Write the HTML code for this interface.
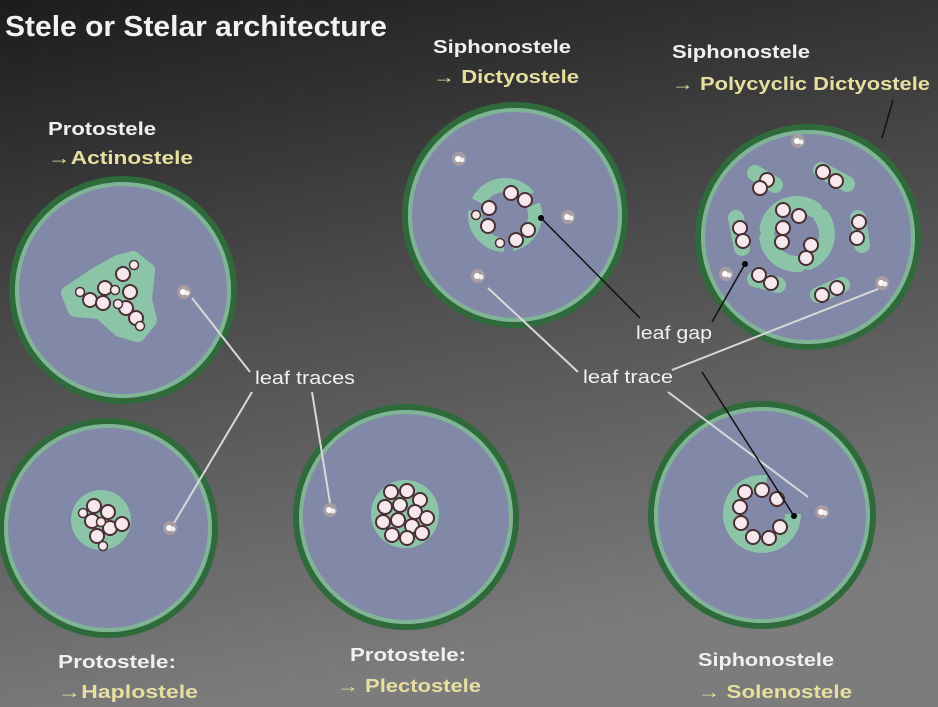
<!DOCTYPE html>
<html><head><meta charset="utf-8"><style>
html,body{margin:0;padding:0;width:938px;height:707px;overflow:hidden;background:#555}
svg{display:block}
text{font-family:"Liberation Sans",sans-serif;font-weight:bold}
</style></head><body>
<svg width="938" height="707" viewBox="0 0 938 707" xmlns="http://www.w3.org/2000/svg">
<defs>
<linearGradient id="bg" x1="0" y1="0" x2="0.25" y2="1">
<stop offset="0" stop-color="#1c1c1c"/>
<stop offset="0.45" stop-color="#4a4a4a"/>
<stop offset="1" stop-color="#7c7c7c"/>
</linearGradient>
<g id="cell"><circle r="7" fill="#f6e8ec" stroke="#4a3034" stroke-width="2"/></g>
<g id="sm"><circle r="4.5" fill="#f6e8ec" stroke="#4a3034" stroke-width="1.5"/></g>
<g id="lt"><circle r="7" fill="#a89ca0"/><circle cx="-1" cy="0" r="3" fill="#fff"/><circle cx="3" cy="1" r="2.5" fill="#eee"/></g>
</defs>
<rect width="938" height="707" fill="url(#bg)"/>

<!-- circles -->
<g stroke="#2f6a3a" stroke-width="6" fill="#8289a8">
<circle cx="123" cy="290" r="111"/>
<circle cx="108" cy="528" r="107"/>
<circle cx="406" cy="517" r="110"/>
<circle cx="515" cy="215" r="110"/>
<circle cx="808" cy="237" r="110"/>
<circle cx="762" cy="515" r="111"/>
</g>
<g stroke="#7fb595" stroke-width="4" fill="none">
<circle cx="123" cy="290" r="106"/>
<circle cx="108" cy="528" r="102"/>
<circle cx="406" cy="517" r="105"/>
<circle cx="515" cy="215" r="105"/>
<circle cx="808" cy="237" r="105"/>
<circle cx="762" cy="515" r="106"/>
</g>

<!-- Actinostele -->
<path d="M68 293 L95 275 L118 262 L133 258 L148 270 L145 300 L150 320 L138 335 L120 330 L100 312 L75 310 Z" fill="#8cc4a8" stroke="#8cc4a8" stroke-width="14" stroke-linejoin="round"/>
<use href="#cell" x="90" y="300"/><use href="#cell" x="105" y="288"/><use href="#cell" x="103" y="303"/><use href="#cell" x="123" y="274"/><use href="#cell" x="130" y="292"/><use href="#cell" x="126" y="308"/><use href="#cell" x="136" y="318"/><use href="#sm" x="80" y="292"/><use href="#sm" x="115" y="290"/><use href="#sm" x="134" y="265"/><use href="#sm" x="140" y="326"/><use href="#sm" x="118" y="304"/>
<use href="#lt" x="184" y="292"/>

<!-- Haplostele -->
<circle cx="101" cy="520" r="30" fill="#8cc4a8"/>
<use href="#cell" x="94" y="506"/><use href="#cell" x="108" y="512"/><use href="#cell" x="92" y="521"/><use href="#cell" x="110" y="528"/><use href="#cell" x="97" y="536"/><use href="#cell" x="122" y="524"/><use href="#sm" x="83" y="513"/><use href="#sm" x="103" y="546"/><use href="#sm" x="101" y="522"/>
<use href="#lt" x="170" y="528"/>

<!-- Plectostele -->
<circle cx="405" cy="514" r="34" fill="#8cc4a8"/>
<use href="#cell" x="391" y="492"/><use href="#cell" x="407" y="491"/><use href="#cell" x="420" y="500"/><use href="#cell" x="385" y="507"/><use href="#cell" x="400" y="505"/><use href="#cell" x="415" y="512"/><use href="#cell" x="427" y="518"/><use href="#cell" x="383" y="522"/><use href="#cell" x="398" y="520"/><use href="#cell" x="412" y="526"/><use href="#cell" x="392" y="535"/><use href="#cell" x="407" y="538"/><use href="#cell" x="422" y="533"/>
<use href="#lt" x="330" y="510"/>

<!-- Dictyostele -->
<circle cx="505" cy="215" r="30" fill="none" stroke="#8cc4a8" stroke-width="14" stroke-dasharray="40 8 50 10 60 10"/>
<use href="#cell" x="511" y="193"/><use href="#cell" x="525" y="200"/><use href="#cell" x="489" y="208"/><use href="#cell" x="488" y="226"/><use href="#cell" x="528" y="230"/><use href="#cell" x="516" y="240"/><use href="#sm" x="500" y="243"/><use href="#sm" x="476" y="215"/>
<use href="#lt" x="459" y="159"/><use href="#lt" x="568" y="217"/><use href="#lt" x="478" y="276"/>
<circle cx="541" cy="218" r="3" fill="#000"/>

<!-- Polycyclic -->
<g fill="none" stroke="#8cc4a8" stroke-width="16" stroke-linecap="round">
<circle cx="797" cy="234" r="30" stroke-dasharray="35 10 45 10 60 10"/>
<path d="M755 173 L775 185"/><path d="M821 170 L847 184"/>
<path d="M736 218 L742 248"/><path d="M858 218 L862 245"/>
<path d="M755 279 L778 285"/><path d="M818 295 L842 285"/>
</g>
<use href="#cell" x="767" y="180"/><use href="#cell" x="760" y="188"/><use href="#cell" x="823" y="172"/><use href="#cell" x="836" y="181"/><use href="#cell" x="740" y="228"/><use href="#cell" x="743" y="241"/><use href="#cell" x="859" y="222"/><use href="#cell" x="857" y="238"/><use href="#cell" x="783" y="210"/><use href="#cell" x="799" y="216"/><use href="#cell" x="783" y="228"/><use href="#cell" x="782" y="242"/><use href="#cell" x="811" y="245"/><use href="#cell" x="806" y="258"/><use href="#cell" x="759" y="275"/><use href="#cell" x="771" y="283"/><use href="#cell" x="822" y="295"/><use href="#cell" x="837" y="288"/>
<use href="#lt" x="798" y="141"/><use href="#lt" x="726" y="274"/><use href="#lt" x="882" y="283"/>
<circle cx="745" cy="264" r="3" fill="#000"/>

<!-- Solenostele -->
<circle cx="762" cy="514" r="31" fill="none" stroke="#8cc4a8" stroke-width="16" stroke-dasharray="150 45"/>
<use href="#cell" x="745" y="492"/><use href="#cell" x="762" y="490"/><use href="#cell" x="777" y="499"/><use href="#cell" x="740" y="507"/><use href="#cell" x="741" y="523"/><use href="#cell" x="753" y="537"/><use href="#cell" x="769" y="538"/><use href="#cell" x="780" y="527"/>
<use href="#lt" x="822" y="512"/>
<circle cx="794" cy="516" r="3" fill="#000"/>

<!-- connector lines -->
<g stroke="#d8d8d8" stroke-width="2" fill="none">
<line x1="250" y1="372" x2="192" y2="298"/>
<line x1="252" y1="392" x2="174" y2="523"/>
<line x1="312" y1="392" x2="330" y2="503"/>
<line x1="578" y1="372" x2="488" y2="288"/>
<line x1="672" y1="370" x2="878" y2="289"/>
<line x1="668" y1="392" x2="808" y2="497"/>
</g>
<g stroke="#111" stroke-width="1.5" fill="none">
<line x1="541" y1="218" x2="640" y2="318"/>
<line x1="745" y1="264" x2="712" y2="322"/>
<line x1="702" y1="372" x2="794" y2="516"/>
<line x1="893" y1="100" x2="882" y2="138"/>
</g>

<!-- text -->
<text x="5" y="36" font-size="29" fill="#f2f2f2" textLength="382" lengthAdjust="spacingAndGlyphs">Stele or Stelar architecture</text>
<g font-size="18">
<text x="48" y="135" fill="#f0f0f0" textLength="108" lengthAdjust="spacingAndGlyphs">Protostele</text>
<text x="48" y="164" fill="#e6dfa0" textLength="145" lengthAdjust="spacingAndGlyphs">→Actinostele</text>
<text x="433" y="53" fill="#f0f0f0" textLength="138" lengthAdjust="spacingAndGlyphs">Siphonostele</text>
<text x="433" y="83" fill="#e6dfa0" textLength="146" lengthAdjust="spacingAndGlyphs">→ Dictyostele</text>
<text x="672" y="58" fill="#f0f0f0" textLength="138" lengthAdjust="spacingAndGlyphs">Siphonostele</text>
<text x="672" y="90" fill="#e6dfa0" textLength="258" lengthAdjust="spacingAndGlyphs">→ Polycyclic Dictyostele</text>
<text x="58" y="668" fill="#f0f0f0" textLength="118" lengthAdjust="spacingAndGlyphs">Protostele:</text>
<text x="58" y="698" fill="#e6dfa0" textLength="140" lengthAdjust="spacingAndGlyphs">→Haplostele</text>
<text x="350" y="661" fill="#f0f0f0" textLength="116" lengthAdjust="spacingAndGlyphs">Protostele:</text>
<text x="337" y="692" fill="#e6dfa0" textLength="144" lengthAdjust="spacingAndGlyphs">→ Plectostele</text>
<text x="698" y="666" fill="#f0f0f0" textLength="136" lengthAdjust="spacingAndGlyphs">Siphonostele</text>
<text x="698" y="698" fill="#e6dfa0" textLength="154" lengthAdjust="spacingAndGlyphs">→ Solenostele</text>
</g>
<g font-size="18" font-weight="normal" fill="#f0f0f0" style="font-weight:normal">
<text x="255" y="384" textLength="100" lengthAdjust="spacingAndGlyphs" style="font-weight:normal">leaf traces</text>
<text x="636" y="339" textLength="76" lengthAdjust="spacingAndGlyphs" style="font-weight:normal">leaf gap</text>
<text x="583" y="383" textLength="90" lengthAdjust="spacingAndGlyphs" style="font-weight:normal">leaf trace</text>
</g>
</svg>
</body></html>
